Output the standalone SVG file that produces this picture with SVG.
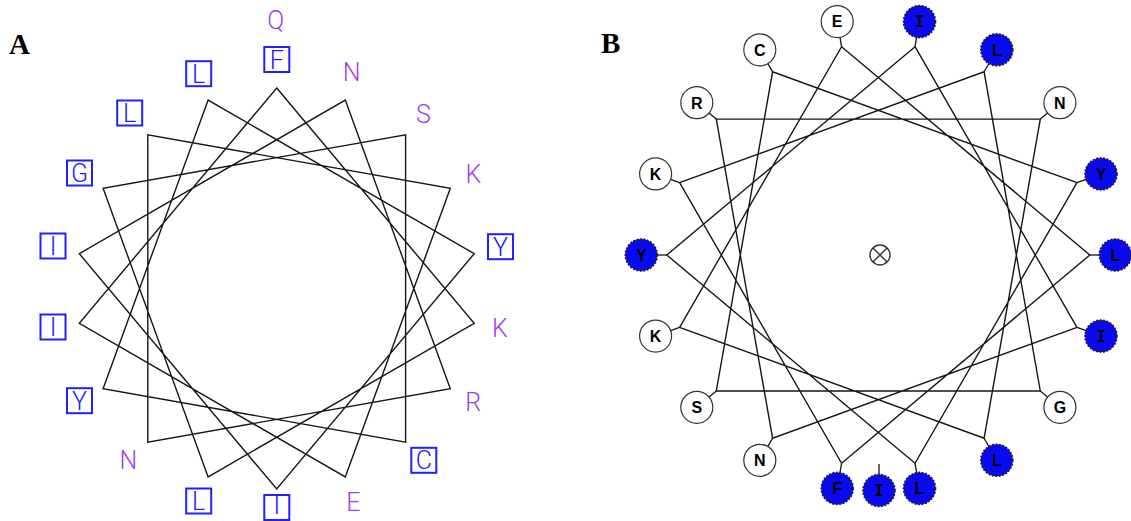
<svg xmlns="http://www.w3.org/2000/svg" width="1131" height="521" viewBox="0 0 1131 521">
<style>
.bg{fill:#ffffff}
.star{fill:none;stroke:#151515;stroke-width:1.4;stroke-linejoin:miter}
.stub{stroke:#151515;stroke-width:1.3}
.lab{font-family:Roboto,"Liberation Sans",sans-serif;font-weight:300;font-size:25px;text-anchor:middle}
.pur{fill:#9F40F0}
.blu{fill:#2020FF}
.box{fill:none;stroke:#2020FF;stroke-width:2}
.panel{font-family:"Liberation Serif",serif;font-weight:bold;font-size:29px;fill:#000}
.wn{fill:#ffffff;stroke:#333333;stroke-width:1.2}
.bn{fill:#0A0AF0;stroke:#222222;stroke-width:1.6;stroke-dasharray:2 1.5}
.nt{font-family:"Liberation Sans",sans-serif;font-weight:bold;font-size:16px;text-anchor:middle;fill:#000}
.it{font-family:"DejaVu Sans Mono",monospace;font-weight:bold;font-size:16px;text-anchor:middle;fill:#000}
.cen{fill:none;stroke:#333333;stroke-width:1.4}
</style>
<rect class="bg" x="0" y="0" width="1131" height="521"/>
<text class="panel" x="9" y="54">A</text>
<text class="panel" x="601" y="53">B</text>

<g id="connectors">
<polygon id="starA" class="star" points="276.7,88 474.2,323.3 208.1,476.9 103.1,188.3 405.6,134.9 405.6,442.1 103.1,388.8 208.1,100.1 474.2,253.7 276.7,489 79.3,253.7 345.3,100.1 450.3,388.8 147.8,442.1 147.8,134.9 450.3,188.3 345.3,476.9 79.3,323.3"/>
<polygon id="starB" class="star" points="915,46.7 1077,327.3 772.6,438.2 716.3,119.1 1040.3,119.1 984.1,438.2 679.6,327.3 841.6,46.7 1089.8,255 841.6,463.3 679.6,182.7 984.1,71.8 1040.3,391 716.3,391 772.6,71.8 1077,182.7 915,463.3 666.8,255"/>
<g id="stubsB">
<line class="stub" x1="919.5" y1="21.6" x2="915" y2="46.7"/>
<line class="stub" x1="996.8" y1="49.8" x2="984.1" y2="71.8"/>
<line class="stub" x1="1059.9" y1="102.7" x2="1040.3" y2="119.1"/>
<line class="stub" x1="1101" y1="173.9" x2="1077" y2="182.7"/>
<line class="stub" x1="1115.3" y1="255" x2="1089.8" y2="255"/>
<line class="stub" x1="1101" y1="336.1" x2="1077" y2="327.3"/>
<line class="stub" x1="1059.9" y1="407.3" x2="1040.3" y2="391"/>
<line class="stub" x1="996.8" y1="460.3" x2="984.1" y2="438.2"/>
<line class="stub" x1="919.5" y1="488.4" x2="915" y2="463.3"/>
<line class="stub" x1="837.2" y1="488.4" x2="841.6" y2="463.3"/>
<line class="stub" x1="759.8" y1="460.3" x2="772.6" y2="438.2"/>
<line class="stub" x1="696.8" y1="407.3" x2="716.3" y2="391"/>
<line class="stub" x1="655.6" y1="336.1" x2="679.6" y2="327.3"/>
<line class="stub" x1="641.3" y1="255" x2="666.8" y2="255"/>
<line class="stub" x1="655.6" y1="173.9" x2="679.6" y2="182.7"/>
<line class="stub" x1="696.8" y1="102.7" x2="716.3" y2="119.1"/>
<line class="stub" x1="759.8" y1="49.8" x2="772.6" y2="71.8"/>
<line class="stub" x1="837.2" y1="21.6" x2="841.6" y2="46.7"/>
<line class="stub" x1="879" y1="464" x2="879" y2="476"/>
</g>
</g>

<!-- Panel A labels -->
<g id="a-Q"><text class="lab pur" x="275.7" y="29">Q</text></g>
<g id="a-F"><rect class="box" x="264.3" y="47" width="25" height="25"/><text class="lab blu" x="276.8" y="68.5">F</text></g>
<g id="a-N1"><text class="lab pur" x="351.7" y="81">N</text></g>
<g id="a-S"><text class="lab pur" x="423.3" y="122.5">S</text></g>
<g id="a-K1"><text class="lab pur" x="473.3" y="182.5">K</text></g>
<g id="a-Y1"><rect class="box" x="488" y="234.2" width="25" height="25"/><text class="lab blu" x="500.5" y="255.7">Y</text></g>
<g id="a-K2"><text class="lab pur" x="500" y="337">K</text></g>
<g id="a-R"><text class="lab pur" x="473.3" y="411">R</text></g>
<g id="a-C"><rect class="box" x="411.3" y="447.8" width="25" height="25"/><text class="lab blu" x="423.8" y="469.3">C</text></g>
<g id="a-E"><text class="lab pur" x="353.3" y="511">E</text></g>
<g id="a-I1"><rect class="box" x="264.3" y="495" width="25" height="25"/><text class="lab blu" x="276.8" y="514">I</text></g>
<g id="a-L1"><rect class="box" x="186.2" y="488.5" width="25" height="25"/><text class="lab blu" x="198.7" y="510">L</text></g>
<g id="a-N2"><text class="lab pur" x="128.3" y="469">N</text></g>
<g id="a-Y2"><rect class="box" x="67" y="388.2" width="25" height="25"/><text class="lab blu" x="79.5" y="409.7">Y</text></g>
<g id="a-I2"><rect class="box" x="40.5" y="314.5" width="25" height="25"/><text class="lab blu" x="53" y="336">I</text></g>
<g id="a-I3"><rect class="box" x="40.5" y="233.5" width="25" height="25"/><text class="lab blu" x="53" y="255">I</text></g>
<g id="a-G"><rect class="box" x="67" y="160.5" width="25" height="25"/><text class="lab blu" x="79.5" y="182">G</text></g>
<g id="a-L2"><rect class="box" x="117.2" y="100.5" width="25" height="25"/><text class="lab blu" x="129.7" y="122">L</text></g>
<g id="a-L3"><rect class="box" x="186.2" y="61.2" width="25" height="25"/><text class="lab blu" x="198.7" y="82.7">L</text></g>

<!-- Panel B nodes -->
<g id="b-center"><circle class="cen" cx="880" cy="255" r="10"/><line class="cen" x1="873" y1="248" x2="887" y2="262"/><line class="cen" x1="887" y1="248" x2="873" y2="262"/></g>
<g id="b-I1"><circle class="bn" cx="919.5" cy="21.6" r="16"/><text class="it" x="919.5" y="27.4">I</text></g>
<g id="b-L1"><circle class="bn" cx="996.8" cy="49.8" r="16"/><text class="nt" x="996.8" y="55.6">L</text></g>
<g id="b-N1"><circle class="wn" cx="1059.9" cy="102.7" r="16"/><text class="nt" x="1059.9" y="108.5">N</text></g>
<g id="b-Y1"><circle class="bn" cx="1101" cy="173.9" r="16"/><text class="nt" x="1101" y="179.7">Y</text></g>
<g id="b-L2"><circle class="bn" cx="1115.3" cy="255" r="16"/><text class="nt" x="1115.3" y="260.8">L</text></g>
<g id="b-I2"><circle class="bn" cx="1101" cy="336.1" r="16"/><text class="it" x="1101" y="341.9">I</text></g>
<g id="b-G"><circle class="wn" cx="1059.9" cy="407.3" r="16"/><text class="nt" x="1059.9" y="413.1">G</text></g>
<g id="b-L3"><circle class="bn" cx="996.8" cy="460.3" r="16"/><text class="nt" x="996.8" y="466.1">L</text></g>
<g id="b-L4"><circle class="bn" cx="919.5" cy="488.4" r="16"/><text class="nt" x="919.5" y="494.2">L</text></g>
<g id="b-I3"><circle class="bn" cx="879" cy="490.5" r="16"/><text class="it" x="879" y="496.3">I</text></g>
<g id="b-F"><circle class="bn" cx="837.2" cy="488.4" r="16"/><text class="nt" x="837.2" y="494.2">F</text></g>
<g id="b-N2"><circle class="wn" cx="759.8" cy="460.3" r="16"/><text class="nt" x="759.8" y="466.1">N</text></g>
<g id="b-S"><circle class="wn" cx="696.8" cy="407.3" r="16"/><text class="nt" x="696.8" y="413.1">S</text></g>
<g id="b-K1"><circle class="wn" cx="655.6" cy="336.1" r="16"/><text class="nt" x="655.6" y="341.9">K</text></g>
<g id="b-Y2"><circle class="bn" cx="641.3" cy="255" r="16"/><text class="nt" x="641.3" y="260.8">Y</text></g>
<g id="b-K2"><circle class="wn" cx="655.6" cy="173.9" r="16"/><text class="nt" x="655.6" y="179.7">K</text></g>
<g id="b-R"><circle class="wn" cx="696.8" cy="102.7" r="16"/><text class="nt" x="696.8" y="108.5">R</text></g>
<g id="b-C"><circle class="wn" cx="759.8" cy="49.8" r="16"/><text class="nt" x="759.8" y="55.6">C</text></g>
<g id="b-E"><circle class="wn" cx="837.2" cy="21.6" r="16"/><text class="nt" x="837.2" y="27.4">E</text></g>
</svg>
